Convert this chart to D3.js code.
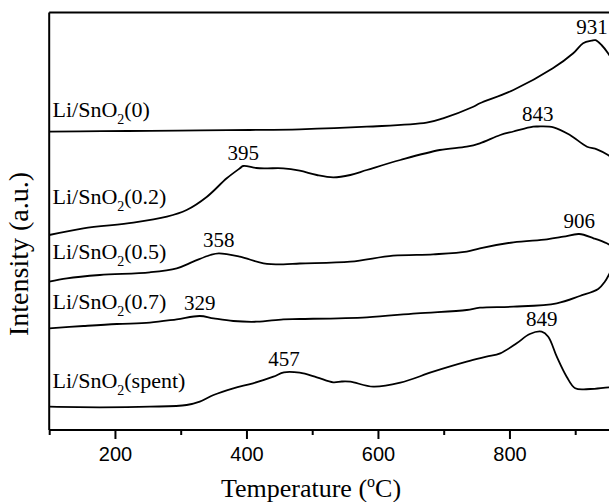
<!DOCTYPE html>
<html>
<head>
<meta charset="utf-8">
<script src="https://cdn.jsdelivr.net/npm/d3@7"></script>
<style>
  body { margin: 0; background: #fff; }
  svg { display: block; }
</style>
</head>
<body>
<svg id="chart" width="609" height="502"></svg>
<script>
// TPR-style profiles of Li/SnO2 samples: temperature (°C) vs. stacked intensity (a.u.)
const sampleNames = ["0", "0.2", "0.5", "0.7", "spent"];

const curve0 = [[100,298.3],[180,298.8],[253,299.2],[330,299.6],[405,300],[481,300.7],[583,303.3],[674,307.3],[699,311.7],[745,323.3],[755,326.7],[806,340],[866,361.7],[897,376.7],[912,386.7],[925,389.3],[931,389.8],[940,385],[950,376.7],[965,360]];
const curve02 = [[100,195],[152,201.7],[228,207.3],[279,213.3],[309,220],[340,233.3],[370,251.7],[390,261.7],[395,264],[415,262],[431,261.7],[456,261.7],[481,259.3],[507,255],[532,252.7],[558,255],[583,260],[634,270],[694,280],[735,283.3],[755,286.7],[786,295],[806,298.5],[836,303.3],[843,303.5],[867,302.7],[892,295],[918,283.3],[933,280.7],[950,275],[965,268]];
const curve05 = [[100,148.3],[127,151.7],[177,155],[253,157.7],[294,161.7],[319,168.3],[345,175],[358,176.7],[390,173.3],[426,166.7],[456,165.7],[481,166.5],[558,168.3],[623,174.3],[684,175.7],[735,178.3],[755,181.7],[806,187.7],[857,190.7],[882,193.3],[906,196],[928,191.7],[948,186.7],[965,180]];
const curve07 = [[100,101.7],[152,104],[203,106],[253,107.3],[294,110.7],[329,114],[350,111.7],[380,109],[416,108.3],[456,110.7],[481,111],[583,112.7],[659,116.7],[735,120],[755,122.3],[806,123.3],[872,126.7],[907,134],[935,141],[945,148.3],[951,155],[960,168]];
const curveSpent = [[100,23.3],[177,22.7],[253,23.3],[309,25],[329,28.3],[350,35],[380,41.7],[410,46.7],[441,53.3],[457,57.7],[481,57.3],[507,52.7],[532,47.7],[545,48.5],[558,48.3],[593,43.3],[634,47.3],[684,58.3],[735,68.3],[765,73.3],[786,76.7],[811,86.7],[831,96],[849,98.3],[859,93.3],[872,73.3],[887,53.3],[900,41.7],[923,41],[951,42.7],[970,43]];

const curves = [curve0, curve02, curve05, curve07, curveSpent];

// peak maxima annotated on each profile (°C)
const peakTemps  = [931, 843, 395, 906, 358, 329, 849, 457];
const peakSeries = [0,   1,   1,   2,   2,   3,   4,   4];

const majorTicks = [200, 400, 600, 800];
const minorTicks = [100, 300, 500, 700, 900];

// layout
const W = 609, H = 502;
const plotLeft = 49.2, plotTop = 12.5, plotBottom = 430;
const labelBaselines = [117, 204, 259, 309, 388];

const svg = d3.select("#chart");

const x = d3.scaleLinear().domain([100, 1000]).range([plotLeft, plotLeft + 900 * 0.6575]);
const y = d3.scaleLinear().domain([0, 418]).range([plotBottom, 12]);

svg.append("defs").append("clipPath").attr("id", "plotclip")
  .append("rect").attr("x", plotLeft).attr("y", plotTop)
  .attr("width", W - plotLeft).attr("height", plotBottom - plotTop);

const line = d3.line()
  .x(d => x(d[0]))
  .y(d => y(d[1]))
  .curve(d3.curveCatmullRom.alpha(0.5));

svg.append("g").attr("clip-path", "url(#plotclip)")
  .selectAll("path.trace")
  .data(curves)
  .join("path")
  .attr("class", "trace")
  .attr("d", line)
  .attr("fill", "none")
  .attr("stroke", "#000")
  .attr("stroke-width", 1.8)
  .attr("stroke-linejoin", "round");

// frame: top edge and left axis
svg.append("line")
  .attr("x1", plotLeft).attr("x2", W).attr("y1", plotTop).attr("y2", plotTop)
  .attr("stroke", "#000").attr("stroke-width", 2);
svg.append("line")
  .attr("x1", plotLeft).attr("x2", plotLeft).attr("y1", plotTop).attr("y2", plotBottom)
  .attr("stroke", "#000").attr("stroke-width", 2);

// bottom axis with major (labelled) and minor ticks
const xAxisMinor = d3.axisBottom(x).tickValues(minorTicks).tickSize(5).tickFormat("");
const xAxisMajor = d3.axisBottom(x).tickValues(majorTicks).tickSize(9).tickPadding(8).tickFormat(d3.format("d"));

const gMinor = svg.append("g").attr("transform", `translate(0,${plotBottom})`).call(xAxisMinor);
const gMajor = svg.append("g").attr("transform", `translate(0,${plotBottom})`).call(xAxisMajor);
[gMinor, gMajor].forEach(g => {
  g.select(".domain").attr("stroke-width", 2).attr("d", `M${plotLeft},0H${W + 40}`);
  g.selectAll(".tick line").attr("stroke-width", 2);
});
gMajor.selectAll(".tick text")
  .attr("font-family", "Liberation Sans, Arial, sans-serif")
  .attr("font-size", 20)
  .attr("fill", "#000");

const serif = "Liberation Serif, Times New Roman, serif";

// axis titles
const xt = svg.append("text")
  .attr("x", 311).attr("y", 497)
  .attr("text-anchor", "middle")
  .attr("font-family", serif).attr("font-size", 26);
xt.append("tspan").text("Temperature (");
xt.append("tspan").attr("dy", -10).attr("font-size", 16).text("o");
xt.append("tspan").attr("dy", 10).text("C)");

svg.append("text")
  .attr("transform", "translate(28,254) rotate(-90)")
  .attr("text-anchor", "middle")
  .attr("font-family", serif).attr("font-size", 28)
  .text("Intensity (a.u.)");

// sample labels with subscript
sampleNames.forEach((name, i) => {
  const t = svg.append("text")
    .attr("x", 52.5).attr("y", labelBaselines[i])
    .attr("font-family", serif).attr("font-size", 22);
  t.append("tspan").text("Li/SnO");
  t.append("tspan").attr("dy", 7).attr("font-size", 14).text("2");
  t.append("tspan").attr("dy", -7).text("(" + name + ")");
});

// peak annotations, placed just above each maximum
peakTemps.forEach((T, i) => {
  const pts = curves[peakSeries[i]];
  const p = pts.reduce((a, b) => Math.abs(b[0] - T) < Math.abs(a[0] - T) ? b : a);
  const px = Math.min(x(T), W - 17);
  svg.append("text")
    .attr("x", px).attr("y", y(p[1]) - 6)
    .attr("text-anchor", "middle")
    .attr("font-family", serif).attr("font-size", 21)
    .text(T);
});
</script>
</body>
</html>
